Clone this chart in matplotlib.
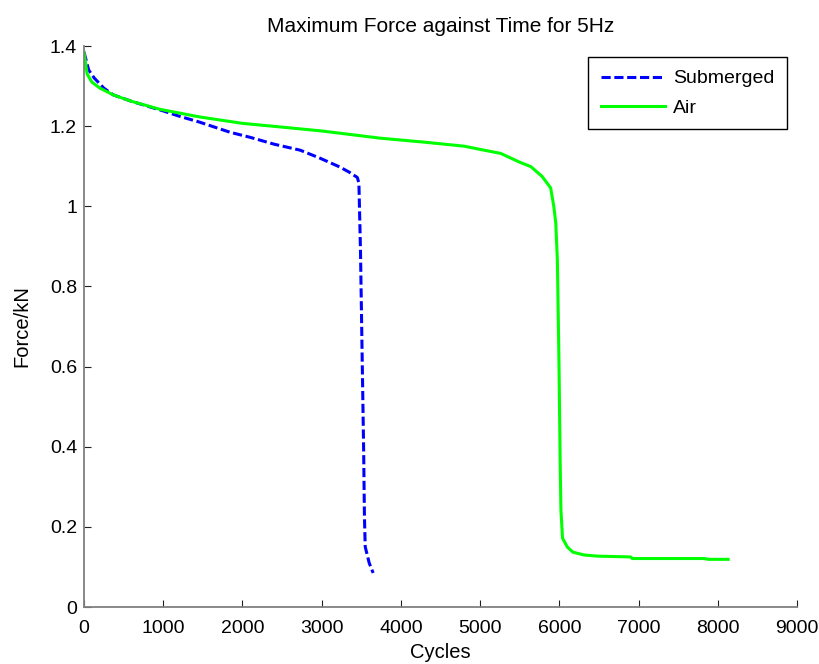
import matplotlib.pyplot as plt

plt.rcParams['font.family'] = ['Liberation Sans', 'DejaVu Sans']

# Maximum force per cycle
sub_cycles = [0, 60, 130, 250, 370, 600, 800, 1000, 1200, 1460, 1840, 2100, 2400,
              2730, 2980, 3230, 3350, 3450, 3470, 3490, 3510, 3530, 3540, 3550,
              3600, 3650]
sub_force = [1.385, 1.34, 1.32, 1.295, 1.278, 1.262, 1.250, 1.238, 1.225, 1.210,
             1.185, 1.172, 1.155, 1.140, 1.120, 1.098, 1.085, 1.072, 1.058, 0.89,
             0.64, 0.39, 0.225, 0.15, 0.11, 0.085]

air_cycles = [0, 40, 100, 200, 370, 600, 960, 1460, 2000, 2480, 3000, 3740, 4300,
              4800, 5000, 5260, 5500, 5640, 5780, 5890, 5930, 5955, 5975, 5995, 6010,
              6020, 6040, 6100, 6170, 6310, 6480, 6900, 6920, 7830, 7880, 8130]
air_force = [1.385, 1.33, 1.31, 1.295, 1.278, 1.262, 1.242, 1.223, 1.207, 1.198,
             1.188, 1.170, 1.160, 1.150, 1.142, 1.132, 1.110, 1.099, 1.075, 1.046,
             1.00, 0.958, 0.866, 0.616, 0.367, 0.242, 0.172, 0.150, 0.137, 0.130,
             0.127, 0.125, 0.121, 0.121, 0.119, 0.119]

x_ticks = [0, 1000, 2000, 3000, 4000, 5000, 6000, 7000, 8000, 9000]
y_ticks = [0, 0.2, 0.4, 0.6, 0.8, 1, 1.2, 1.4]
y_labels = ['0', '0.2', '0.4', '0.6', '0.8', '1', '1.2', '1.4']

fig = plt.figure(figsize=(8.2, 6.64), dpi=100)
ax = fig.add_axes([0.1024, 0.0858, 0.8696, 0.8449])

ax.plot(sub_cycles, sub_force, color='#0000ff', linewidth=2.2,
        linestyle='--', dashes=(3.0, 1.2), label='Submerged')
ax.plot(air_cycles, air_force, color='#00ff00', linewidth=2.2, label='Air')

ax.set_xlim(0, 9000)
ax.set_ylim(0, 1.4)
ax.set_xticks(x_ticks)
ax.set_yticks(y_ticks)
ax.set_yticklabels(y_labels)

for side in ['top', 'right']:
    ax.spines[side].set_visible(False)
for side in ['left', 'bottom']:
    ax.spines[side].set_color('#808080')
    ax.spines[side].set_linewidth(1.3)
ax.tick_params(direction='in', length=5, width=0.8, colors='#202020',
               labelsize=14, labelcolor='black')
ax.tick_params(axis='x', pad=9)
ax.tick_params(axis='y', pad=5)

ax.set_title('Maximum Force against Time for 5Hz', fontsize=15, pad=10)
ax.set_xlabel('Cycles', fontsize=14.5, labelpad=5)
ax.set_ylabel('Force/kN', fontsize=14.5, labelpad=13)

leg = ax.legend(loc='upper right', bbox_to_anchor=(0.986, 0.980), borderaxespad=0,
                fontsize=14, frameon=True, fancybox=False, framealpha=1,
                edgecolor='black', handlelength=3.3, borderpad=0.65,
                labelspacing=0.6, handletextpad=0.4)
leg.get_frame().set_linewidth(1.0)

fig.savefig('out.png', dpi=100)
